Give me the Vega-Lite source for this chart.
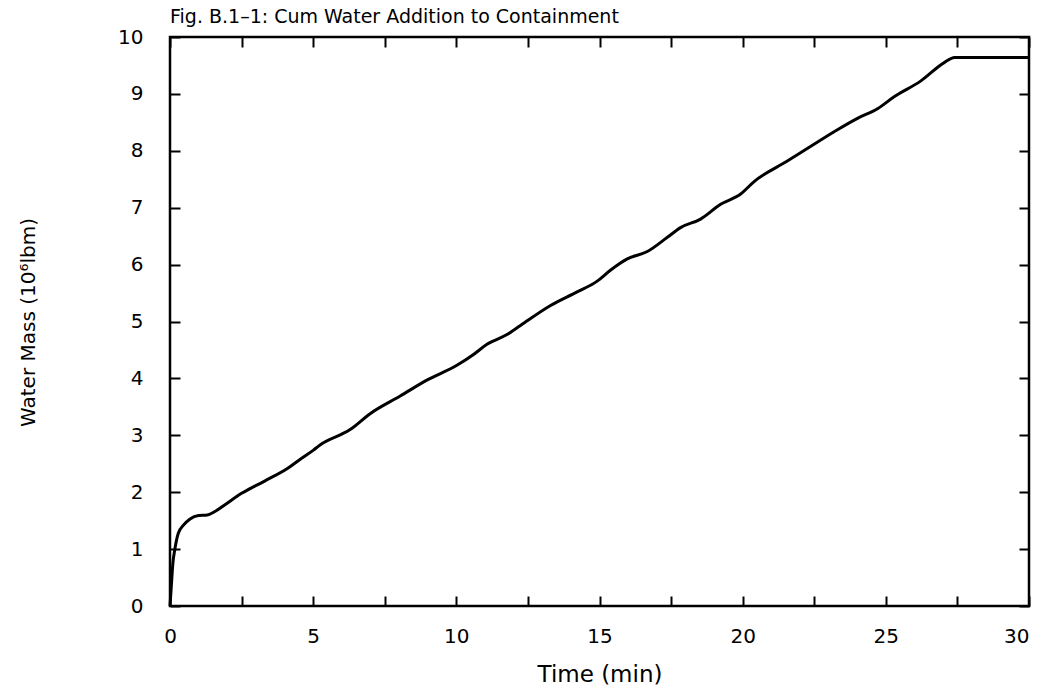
{
  "$schema": "https://vega.github.io/schema/vega-lite/v6.json",
  "autosize": "none",
  "padding": {"left": 170, "top": 37, "right": 10, "bottom": 86},
  "width": 859,
  "height": 569,
  "background": "white",
  "title": {
    "text": "Fig. B.1–1: Cum Water Addition to Containment",
    "anchor": "start",
    "frame": "group",
    "font": "DejaVu Sans",
    "fontSize": 19,
    "fontWeight": "normal",
    "color": "black",
    "offset": 0
  },
  "config": {
    "view": {"stroke": "black", "strokeWidth": 2.5},
    "axis": {
      "domain": false,
      "grid": false,
      "labelFlush": false,
      "tickColor": "black",
      "tickWidth": 2,
      "tickSize": -10,
      "labelFont": "DejaVu Sans",
      "labelFontSize": 20,
      "labelColor": "black",
      "titleFont": "DejaVu Sans",
      "titleFontSize": 18,
      "titleFontWeight": "normal",
      "titleColor": "black"
    }
  },
  "data": {
    "values": [
      {"t": 0, "v": 0},
      {"t": 0.04, "v": 0.3},
      {"t": 0.1, "v": 0.75},
      {"t": 0.17, "v": 1.0},
      {"t": 0.29, "v": 1.28},
      {"t": 0.47, "v": 1.42},
      {"t": 0.7, "v": 1.53},
      {"t": 1.0, "v": 1.59},
      {"t": 1.3, "v": 1.6},
      {"t": 1.57, "v": 1.66},
      {"t": 1.92, "v": 1.78},
      {"t": 2.5, "v": 1.98},
      {"t": 3.32, "v": 2.2},
      {"t": 4.14, "v": 2.43},
      {"t": 4.55, "v": 2.58},
      {"t": 5.01, "v": 2.74},
      {"t": 5.24, "v": 2.83},
      {"t": 6.29, "v": 3.1},
      {"t": 6.99, "v": 3.38},
      {"t": 8.04, "v": 3.69},
      {"t": 8.97, "v": 3.97},
      {"t": 10.02, "v": 4.23},
      {"t": 10.6, "v": 4.42},
      {"t": 11.07, "v": 4.6},
      {"t": 11.77, "v": 4.77},
      {"t": 12.24, "v": 4.93},
      {"t": 13.29, "v": 5.28},
      {"t": 14.22, "v": 5.52},
      {"t": 14.92, "v": 5.71},
      {"t": 15.38, "v": 5.9},
      {"t": 15.97, "v": 6.1},
      {"t": 16.67, "v": 6.23},
      {"t": 17.37, "v": 6.48},
      {"t": 17.83, "v": 6.65},
      {"t": 18.53, "v": 6.8},
      {"t": 19.23, "v": 7.06},
      {"t": 19.93, "v": 7.24},
      {"t": 20.4, "v": 7.46},
      {"t": 21.56, "v": 7.82},
      {"t": 22.38, "v": 8.08},
      {"t": 23.31, "v": 8.37},
      {"t": 24.01, "v": 8.57},
      {"t": 24.71, "v": 8.74},
      {"t": 25.29, "v": 8.95},
      {"t": 26.2, "v": 9.22},
      {"t": 27.04, "v": 9.55},
      {"t": 27.4, "v": 9.64},
      {"t": 30, "v": 9.64}
    ]
  },
  "layer": [
    {
      "mark": {"type": "line", "color": "black", "strokeWidth": 3, "interpolate": "monotone"},
      "encoding": {
        "x": {
          "field": "t", "type": "quantitative",
          "scale": {"domain": [0, 30], "nice": false},
          "axis": {
            "orient": "bottom",
            "values": [0, 2.5, 5, 7.5, 10, 12.5, 15, 17.5, 20, 22.5, 25, 27.5, 30],
            "labelExpr": "datum.value % 5 == 0 ? datum.label : ''",
            "labelAlign": {"expr": "datum.value == 30 ? 'right' : 'center'"},
            "labelPadding": 30,
            "title": "Time (min)",
            "titleFontSize": 23,
            "titleY": 75,
            "titleBaseline": "alphabetic"
          }
        },
        "y": {
          "field": "v", "type": "quantitative",
          "scale": {"domain": [0, 10], "nice": false},
          "axis": {
            "orient": "left",
            "values": [0, 1, 2, 3, 4, 5, 6, 7, 8, 9, 10],
            "labelPadding": 37,
            "title": "Water Mass (10⁶lbm)",
            "titleFontSize": 20,
            "titleX": -142,
            "titleY": 285,
            "titleAngle": -90,
            "titleBaseline": "middle",
            "titleAlign": "center"
          }
        }
      }
    },
    {
      "mark": {"type": "line", "opacity": 0},
      "encoding": {
        "x": {
          "field": "t", "type": "quantitative",
          "scale": {"domain": [0, 30], "nice": false},
          "axis": {
            "orient": "top",
            "values": [0, 2.5, 5, 7.5, 10, 12.5, 15, 17.5, 20, 22.5, 25, 27.5, 30],
            "labels": false,
            "title": null
          }
        },
        "y": {
          "field": "v", "type": "quantitative",
          "scale": {"domain": [0, 10], "nice": false},
          "axis": {
            "orient": "right",
            "values": [0, 1, 2, 3, 4, 5, 6, 7, 8, 9, 10],
            "labels": false,
            "title": null
          }
        }
      }
    }
  ],
  "resolve": {"axis": {"x": "independent", "y": "independent"}}
}
